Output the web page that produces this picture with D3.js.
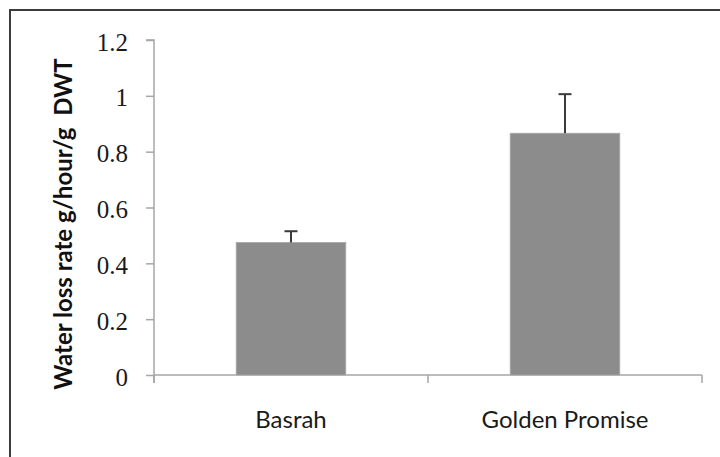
<!DOCTYPE html>
<html>
<head>
<meta charset="utf-8">
<script src="https://cdn.jsdelivr.net/npm/d3@7"></script>
<style>
  html, body { margin: 0; padding: 0; background: #fff; }
  svg { display: block; }
</style>
</head>
<body>
<svg id="chart" width="720" height="457"></svg>
<script>
// Water loss rate per cultivar (mean with upper error)
const categories = ["Basrah", "Golden Promise"];
const values = [0.475, 0.866];
const errors = [0.04, 0.14];
const yTicks = [0, 0.2, 0.4, 0.6, 0.8, 1, 1.2];
const yTickLabels = ["0", "0.2", "0.4", "0.6", "0.8", "1", "1.2"];
const yTitle = "Water loss rate g/hour/g\u00a0\u00a0DWT";

const svg = d3.select("#chart");
const plot = { left: 154, right: 702, top: 40, bottom: 375 };

// outer frame
svg.append("path")
  .attr("d", "M10,457 L10,10 L720,10")
  .attr("fill", "none")
  .attr("stroke", "#3c3c3c")
  .attr("stroke-width", 2);

const y = d3.scaleLinear().domain([0, 1.2]).range([plot.bottom, plot.top]);

// category slots (for axis ticks) and bars inside them
const slot = d3.scaleBand().domain(categories).range([plot.left, plot.right]).padding(0);
const x = d3.scaleBand().domain(categories).range([plot.left, plot.right])
  .paddingInner(0.6).paddingOuter(0.3);

const axisColor = "#a6a6a6";

// y axis
const yAxis = svg.append("g")
  .attr("transform", `translate(${plot.left},0)`)
  .call(d3.axisLeft(y).tickValues(yTicks)
    .tickFormat((d, i) => yTickLabels[i]).tickSize(8).tickPadding(18));
yAxis.select(".domain").attr("stroke", axisColor).attr("stroke-width", 1.5)
  .attr("d", `M-8,${y(1.2)}H0V${y(0) + 8}`);
yAxis.selectAll(".tick line").attr("stroke", axisColor).attr("stroke-width", 1.5);
yAxis.selectAll(".tick text")
  .attr("fill", "#1a1a1a")
  .style("font-family", "'Liberation Serif', serif")
  .style("font-size", "25px")
  .attr("dy", "0.4em");

// x axis
const xAxis = svg.append("g")
  .attr("transform", `translate(0,${plot.bottom})`)
  .call(d3.axisBottom(slot).tickSize(0).tickPadding(36));
xAxis.select(".domain").attr("stroke", axisColor).attr("stroke-width", 1.5)
  .attr("d", `M${plot.left},0H${plot.right}`);
xAxis.selectAll(".tick text")
  .attr("fill", "#1a1a1a")
  .style("font-family", "Lato, 'Open Sans', sans-serif")
  .style("font-size", "24px");
const bounds = categories.map(c => slot(c)).concat([slot(categories[categories.length - 1]) + slot.step()]);
xAxis.selectAll("line.bound").data(bounds).enter().append("line")
  .attr("class", "bound")
  .attr("x1", d => d).attr("x2", d => d)
  .attr("y1", 0).attr("y2", 8)
  .attr("stroke", axisColor).attr("stroke-width", 1.5);

// bars
svg.append("g").selectAll("rect").data(categories).enter().append("rect")
  .attr("x", d => x(d))
  .attr("y", (d, i) => y(values[i]))
  .attr("width", x.bandwidth())
  .attr("height", (d, i) => y(0) - y(values[i]))
  .attr("fill", "#8c8c8c")
  .attr("stroke", "#a9a9a9")
  .attr("stroke-width", 0.8);

// error bars (upper)
const capHalf = 6.5;
const eb = svg.append("g").attr("stroke", "#3a3a3a").attr("stroke-width", 2);
categories.forEach((c, i) => {
  const cx = x(c) + x.bandwidth() / 2;
  eb.append("line").attr("x1", cx).attr("x2", cx)
    .attr("y1", y(values[i])).attr("y2", y(values[i] + errors[i]));
  eb.append("line").attr("x1", cx - capHalf).attr("x2", cx + capHalf)
    .attr("y1", y(values[i] + errors[i])).attr("y2", y(values[i] + errors[i]));
});

// y axis title
svg.append("text")
  .attr("transform", `translate(72,${(52 + 396) / 2}) rotate(-90)`)
  .attr("text-anchor", "middle")
  .attr("fill", "#111")
  .style("font-family", "Lato, 'Open Sans', sans-serif")
  .style("font-weight", "bold")
  .style("font-size", "24px")
  .text(yTitle);
</script>
</body>
</html>
